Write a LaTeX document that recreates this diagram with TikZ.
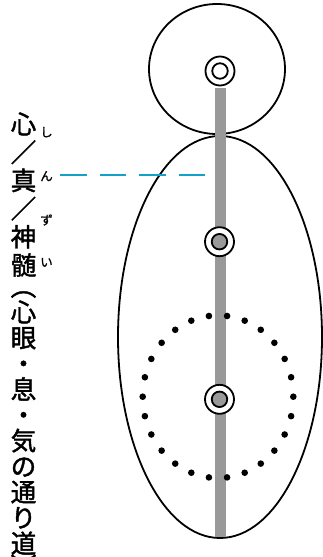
\documentclass[tikz,border=0pt]{standalone}
\usepackage{fontspec}
\newfontfamily\jp[FakeBold=1.6]{Noto Sans CJK JP}
\newfontfamily\jpr[FakeBold=1]{Noto Sans CJK JP}
\usetikzlibrary{shapes.geometric}
\definecolor{leader}{RGB}{20,160,200}
\definecolor{bargray}{RGB}{153,153,153}
\tikzset{
  outline/.style={draw=black, line width=1.8pt, inner sep=0pt, outer sep=0pt},
  ring/.style={circle, draw=black, line width=1.8pt, inner sep=0pt, outer sep=0pt, minimum size=#1},
  ch/.style={font=\jp\fontsize{25.5}{25.5}\selectfont, inner sep=0pt, text height=22.44pt, text depth=3.06pt, anchor=center},
  rb/.style={font=\jpr\fontsize{12.5}{12.5}\selectfont, inner sep=0pt, text height=11pt, text depth=1.5pt, anchor=center},
  leaderline/.style={draw=leader, line width=2.5pt, dash pattern=on 26.5pt off 13pt},
  bar/.style={draw=bargray, line width=11pt},
  dot/.style={fill=black}
}
\begin{document}
\begin{tikzpicture}[x=1pt,y=-1pt]
\useasboundingbox (0,0) rectangle (323,557);
% body and head
\node[outline, ellipse, minimum width=204pt, minimum height=402pt] (body) at (220,337) {};
\node[outline, ellipse, minimum width=136pt, minimum height=130pt] (head) at (217,69) {};
% central channel
\coordinate (bartop) at (220,88);
\coordinate (barbot) at (220,537);
\draw[bar] (bartop) -- (barbot);
% dotted ring
\foreach \k in {0,...,25}
  \fill[dot] ({218+75.3*cos(360*\k/26)},{396.7+81.3*sin(360*\k/26)}) circle (3.3pt);
% double circles
\node[ring=29pt, fill=white] (c1o) at (220,71) {};
\node[ring=15.5pt, fill=white] (c1i) at (220,71) {};
\node[ring=29pt, fill=white] (c2o) at (219.5,241.7) {};
\node[ring=15.5pt, fill=bargray] (c2i) at (219.5,241.7) {};
\node[ring=29pt, fill=white] (c3o) at (219.5,399.3) {};
\node[ring=15.5pt, fill=bargray] (c3i) at (219.5,399.3) {};
% leader
\coordinate (lstart) at (60,175);
\coordinate (lend) at (205.5,175);
\draw[leaderline] (lstart) -- (lend);
% vertical text
\foreach \c/\y [count=\i] in {心/124, ／/152.2, 真/180.4, ／/208.6, 神/236.8, 髄/265,
    心/312, 眼/337.7, ・/363.4, 息/389.1, ・/414.8, 気/440.5, の/466.2,
    通/491.9, り/517.6, 道/543.3}
  \node[ch] (t\i) at (23.5,\y) {\c};
\node[ch, rotate=-90] (popen) at (23.5,286.3) {（};
\node[ch, rotate=-90] (pclose) at (23.5,566) {）};
% ruby
\foreach \c/\y [count=\i] in {し/132, ん/176, ず/220, い/262}
  \node[rb] (r\i) at (46.5,\y) {\c};
\end{tikzpicture}
\end{document}
